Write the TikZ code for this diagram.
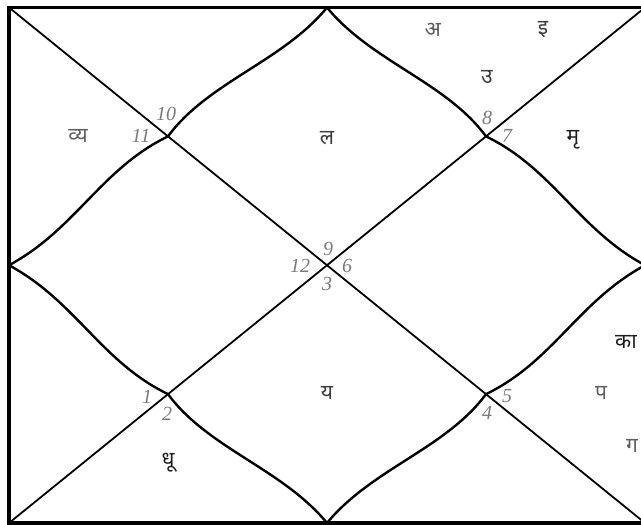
\documentclass[tikz,border=0pt]{standalone}
\usepackage{fontspec}
\setmainfont{Liberation Serif}
\newfontfamily\deva[Script=Devanagari]{Noto Sans}
\definecolor{numgray}{HTML}{7A7A7A}
\definecolor{darkdeva}{HTML}{1E1E1E}
\definecolor{middeva}{HTML}{3C3C3C}
\definecolor{lightdeva}{HTML}{5E5E5E}
\tikzset{
  frame/.style={line width=3.5pt},
  diag/.style={line width=1.8pt},
  petal/.style={line width=2.4pt},
  housenum/.style={font=\fontsize{20}{20}\selectfont\itshape, text=numgray, inner sep=0pt},
  planet/.style={font=\deva\fontsize{21}{21}\selectfont, inner sep=0pt},
}
\begin{document}
\begin{tikzpicture}[x=1pt,y=-1pt]
\useasboundingbox (0,0) rectangle (641,525);
\clip (0,0) rectangle (641,525);
\fill[white] (0,0) rectangle (641,525);
% key points
\coordinate (TL) at (9,7.5);
\coordinate (TR) at (645,7.5);
\coordinate (BL) at (9,523);
\coordinate (BR) at (645,523);
\coordinate (T) at (327,7.5);
\coordinate (B) at (327,523);
\coordinate (L) at (9,265.25);
\coordinate (R) at (645,265.25);
\coordinate (C) at (327,265.25);
\coordinate (Q1) at (168,136.4);
\coordinate (Q2) at (486,136.4);
\coordinate (Q3) at (168,394.1);
\coordinate (Q4) at (486,394.1);
% diagonals
\draw[diag] (TL) -- (BR);
\draw[diag] (TR) -- (BL);
% lotus curves
\draw[petal] (T) .. controls (282.5,61.6) and (207.75,82.2) .. (Q1)
                 .. controls (101.2,168.6) and (75.8,229.2) .. (L);
\draw[petal] (T) .. controls (371.5,61.6) and (446.25,82.2) .. (Q2)
                 .. controls (552.8,168.6) and (578.2,229.2) .. (R);
\draw[petal] (B) .. controls (282.5,468.9) and (207.75,448.3) .. (Q3)
                 .. controls (101.2,361.9) and (75.8,301.3) .. (L);
\draw[petal] (B) .. controls (371.5,468.9) and (446.25,448.3) .. (Q4)
                 .. controls (552.8,361.9) and (578.2,301.3) .. (R);
% frame
\draw[frame] (TL) rectangle (BR);
% house numbers
\node[housenum] (n10) at (166,114) {10};
\node[housenum] (n11) at (141,136) {11};
\node[housenum] (n8) at (487,118) {8};
\node[housenum] (n7) at (507,136) {7};
\node[housenum] (n9) at (328,249) {9};
\node[housenum] (n12) at (300,266) {12};
\node[housenum] (n6) at (347,266) {6};
\node[housenum] (n3) at (327,284) {3};
\node[housenum] (n1) at (147,397) {1};
\node[housenum] (n2) at (167,414) {2};
\node[housenum] (n5) at (507,396) {5};
\node[housenum] (n4) at (487,413) {4};
% planets / letters
\node[planet, text=lightdeva] (pa) at (433,30) {अ};
\node[planet, text=middeva] (pi) at (543,30) {इ};
\node[planet, text=middeva] (pu) at (487,77) {उ};
\node[planet, text=darkdeva] (pmr) at (573,140) {मृ};
\node[planet, text=lightdeva] (pvy) at (78,136) {व्य};
\node[planet, text=middeva] (pl) at (327,138) {ल};
\node[planet, text=middeva] (py) at (327,393) {य};
\node[planet, text=darkdeva] (pdh) at (168,463) {धू};
\node[planet, text=darkdeva] (pka) at (626,342) {का};
\node[planet, text=lightdeva] (pp) at (601,393) {प};
\node[planet, text=lightdeva] (pg) at (632,446) {ग};
\end{tikzpicture}
\end{document}
